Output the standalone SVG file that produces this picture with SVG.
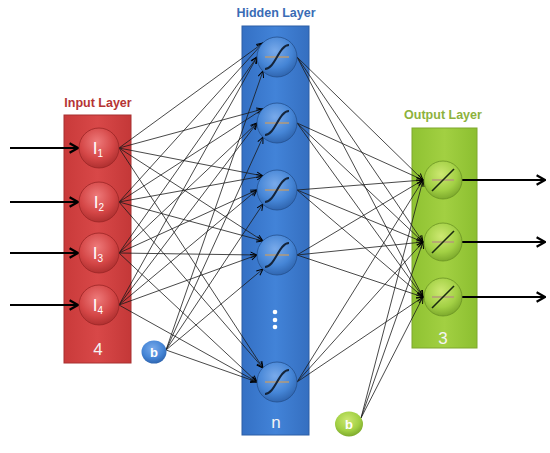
<svg xmlns="http://www.w3.org/2000/svg" width="550" height="453" viewBox="0 0 550 453">
<defs>
<style>
.title{font-family:"Liberation Sans",Arial,sans-serif;font-weight:bold;font-size:12.5px;text-anchor:middle}
.lbl{font-family:"Liberation Sans",Arial,sans-serif;fill:#fff;text-anchor:middle}
.cnt{font-family:"Liberation Sans",Arial,sans-serif;fill:#f4f4f4;font-size:17px;text-anchor:middle}
.c{stroke:#1a1a1a;stroke-width:0.8;fill:none;marker-end:url(#ah)}
.big{stroke:#000;stroke-width:2;fill:none;marker-end:url(#ahb)}
.gray{stroke:#b39a78;stroke-width:1.5}
.sig{stroke:#14243a;stroke-width:2;fill:none}
.lin{stroke:#1a2a10;stroke-width:1.6}
.rr{stroke:#9a2626;stroke-width:0.8}
.rb{stroke:#24508e;stroke-width:0.8}
.rg{stroke:#6a9222;stroke-width:0.8}
</style>
<marker id="ah" viewBox="0 0 10 10" refX="9" refY="5" markerWidth="8" markerHeight="8" markerUnits="userSpaceOnUse" orient="auto"><path d="M1,1.5 L9,5 L1,8.5" fill="none" stroke="#000" stroke-width="1.2"/></marker>
<marker id="ahb" viewBox="0 0 10 10" refX="9" refY="5" markerWidth="12" markerHeight="12" markerUnits="userSpaceOnUse" orient="auto"><path d="M2,1 L9,5 L2,9" fill="none" stroke="#000" stroke-width="1.8"/></marker>
<linearGradient id="rR" x1="0" y1="0" x2="1" y2="0"><stop offset="0" stop-color="#c93a3a"/><stop offset="0.5" stop-color="#d84848"/><stop offset="1" stop-color="#c43838"/></linearGradient>
<linearGradient id="rB" x1="0" y1="0" x2="1" y2="0"><stop offset="0" stop-color="#3470c4"/><stop offset="0.5" stop-color="#4283d8"/><stop offset="1" stop-color="#356fc0"/></linearGradient>
<linearGradient id="rG" x1="0" y1="0" x2="1" y2="0"><stop offset="0" stop-color="#8fc232"/><stop offset="0.5" stop-color="#a2d042"/><stop offset="1" stop-color="#8cbf30"/></linearGradient>
<radialGradient id="cR" cx="0.45" cy="0.35" r="0.7"><stop offset="0" stop-color="#ee7a7a"/><stop offset="0.6" stop-color="#d44646"/><stop offset="1" stop-color="#a82c2c"/></radialGradient>
<radialGradient id="cB" cx="0.45" cy="0.35" r="0.7"><stop offset="0" stop-color="#79aaea"/><stop offset="0.6" stop-color="#4585d6"/><stop offset="1" stop-color="#2b5fa8"/></radialGradient>
<radialGradient id="cG" cx="0.45" cy="0.35" r="0.7"><stop offset="0" stop-color="#cde872"/><stop offset="0.6" stop-color="#a2d044"/><stop offset="1" stop-color="#76a228"/></radialGradient>
</defs>
<rect width="550" height="453" fill="#fff"/>

<g id="input-layer">
<text class="title" x="98" y="107" fill="#b53434">Input Layer</text>
<rect x="64" y="115" width="67" height="248" fill="url(#rR)" stroke="#a83030" stroke-width="1"/>
<text class="cnt" x="98" y="355">4</text>
</g>
<g id="hidden-layer">
<text class="title" x="276" y="17" fill="#3a6cb5">Hidden Layer</text>
<rect x="242" y="26" width="67" height="409" fill="url(#rB)" stroke="#2d5fa6" stroke-width="1"/>
<text class="cnt" x="276" y="428">n</text>
<circle cx="275" cy="312" r="2.3" fill="#fff"/>
<circle cx="275" cy="320" r="2.3" fill="#fff"/>
<circle cx="275" cy="327" r="2.3" fill="#fff"/>
</g>
<g id="output-layer">
<text class="title" x="443" y="119" fill="#8db23c">Output Layer</text>
<rect x="412" y="128" width="65" height="220" fill="url(#rG)" stroke="#7ea82c" stroke-width="1"/>
<text class="cnt" x="443" y="344">3</text>
</g>

<g id="connectors">
<line class="big" x1="10" y1="148" x2="78" y2="148"/>
<line class="big" x1="10" y1="202" x2="78" y2="202"/>
<line class="big" x1="10" y1="253" x2="78" y2="253"/>
<line class="big" x1="10" y1="305" x2="78" y2="305"/>
<line class="big" x1="462" y1="180" x2="545" y2="180"/>
<line class="big" x1="462" y1="242" x2="545" y2="242"/>
<line class="big" x1="462" y1="297" x2="545" y2="297"/>
<line class="c" x1="119" y1="148" x2="263" y2="43"/>
<line class="c" x1="119" y1="202" x2="263" y2="43"/>
<line class="c" x1="119" y1="253" x2="257" y2="57"/>
<line class="c" x1="119" y1="305" x2="257" y2="57"/>
<line class="c" x1="166" y1="350" x2="263" y2="71"/>
<line class="c" x1="119" y1="148" x2="263" y2="109"/>
<line class="c" x1="119" y1="202" x2="263" y2="109"/>
<line class="c" x1="119" y1="253" x2="257" y2="123"/>
<line class="c" x1="119" y1="305" x2="257" y2="123"/>
<line class="c" x1="166" y1="350" x2="263" y2="137"/>
<line class="c" x1="119" y1="148" x2="263" y2="176"/>
<line class="c" x1="119" y1="202" x2="263" y2="176"/>
<line class="c" x1="119" y1="253" x2="257" y2="190"/>
<line class="c" x1="119" y1="305" x2="257" y2="190"/>
<line class="c" x1="166" y1="350" x2="263" y2="204"/>
<line class="c" x1="119" y1="148" x2="263" y2="241"/>
<line class="c" x1="119" y1="202" x2="263" y2="241"/>
<line class="c" x1="119" y1="253" x2="257" y2="255"/>
<line class="c" x1="119" y1="305" x2="257" y2="255"/>
<line class="c" x1="166" y1="350" x2="263" y2="269"/>
<line class="c" x1="119" y1="148" x2="263" y2="368"/>
<line class="c" x1="119" y1="202" x2="263" y2="368"/>
<line class="c" x1="119" y1="253" x2="257" y2="382"/>
<line class="c" x1="119" y1="305" x2="257" y2="382"/>
<line class="c" x1="166" y1="350" x2="257" y2="382"/>
<line class="c" x1="297" y1="57" x2="423" y2="180"/>
<line class="c" x1="297" y1="57" x2="423" y2="242"/>
<line class="c" x1="297" y1="57" x2="423" y2="297"/>
<line class="c" x1="297" y1="123" x2="423" y2="180"/>
<line class="c" x1="297" y1="123" x2="423" y2="242"/>
<line class="c" x1="297" y1="123" x2="423" y2="297"/>
<line class="c" x1="297" y1="190" x2="423" y2="180"/>
<line class="c" x1="297" y1="190" x2="423" y2="242"/>
<line class="c" x1="297" y1="190" x2="423" y2="297"/>
<line class="c" x1="297" y1="255" x2="423" y2="180"/>
<line class="c" x1="297" y1="255" x2="423" y2="242"/>
<line class="c" x1="297" y1="255" x2="423" y2="297"/>
<line class="c" x1="297" y1="382" x2="423" y2="180"/>
<line class="c" x1="297" y1="382" x2="423" y2="242"/>
<line class="c" x1="297" y1="382" x2="423" y2="297"/>
<line class="c" x1="361" y1="418" x2="423" y2="180"/>
<line class="c" x1="361" y1="418" x2="423" y2="242"/>
<line class="c" x1="361" y1="418" x2="423" y2="297"/>
</g>

<g id="I1"><circle class="rr" cx="99" cy="148" r="20" fill="url(#cR)"/><text class="lbl" x="98" y="154" font-size="17">I<tspan font-size="10" dy="3">1</tspan></text></g>
<g id="I2"><circle class="rr" cx="99" cy="202" r="20" fill="url(#cR)"/><text class="lbl" x="99" y="208" font-size="17">I<tspan font-size="10" dy="3">2</tspan></text></g>
<g id="I3"><circle class="rr" cx="99" cy="253" r="20" fill="url(#cR)"/><text class="lbl" x="98" y="259" font-size="17">I<tspan font-size="10" dy="3">3</tspan></text></g>
<g id="I4"><circle class="rr" cx="99" cy="305" r="20" fill="url(#cR)"/><text class="lbl" x="98" y="311" font-size="17">I<tspan font-size="10" dy="3">4</tspan></text></g>

<g id="H1"><circle class="rb" cx="277" cy="57" r="20" fill="url(#cB)"/><line class="gray" x1="265" y1="57" x2="289" y2="57"/><path class="sig" d="M265,69 C275,69 279,45 289,45"/></g>
<g id="H2"><circle class="rb" cx="277" cy="123" r="20" fill="url(#cB)"/><line class="gray" x1="265" y1="123" x2="289" y2="123"/><path class="sig" d="M265,135 C275,135 279,111 289,111"/></g>
<g id="H3"><circle class="rb" cx="277" cy="190" r="20" fill="url(#cB)"/><line class="gray" x1="265" y1="190" x2="289" y2="190"/><path class="sig" d="M265,202 C275,202 279,178 289,178"/></g>
<g id="H4"><circle class="rb" cx="277" cy="255" r="20" fill="url(#cB)"/><line class="gray" x1="265" y1="255" x2="289" y2="255"/><path class="sig" d="M265,267 C275,267 279,243 289,243"/></g>
<g id="H5"><circle class="rb" cx="277" cy="382" r="20" fill="url(#cB)"/><line class="gray" x1="265" y1="382" x2="289" y2="382"/><path class="sig" d="M265,394 C275,394 279,370 289,370"/></g>

<g id="O1"><circle class="rg" cx="443" cy="180" r="19" fill="url(#cG)"/><line class="gray" x1="432" y1="180" x2="454" y2="180"/><line class="lin" x1="432" y1="191" x2="454" y2="169"/></g>
<g id="O2"><circle class="rg" cx="443" cy="242" r="19" fill="url(#cG)"/><line class="gray" x1="432" y1="242" x2="454" y2="242"/><line class="lin" x1="432" y1="253" x2="454" y2="231"/></g>
<g id="O3"><circle class="rg" cx="443" cy="297" r="19" fill="url(#cG)"/><line class="gray" x1="432" y1="297" x2="454" y2="297"/><line class="lin" x1="432" y1="308" x2="454" y2="286"/></g>

<g id="b-hidden"><ellipse cx="154" cy="352" rx="12.5" ry="11.5" fill="url(#cB)"/><text class="lbl" x="154" y="357" font-size="13" font-weight="bold">b</text></g>
<g id="b-output"><ellipse cx="349" cy="424" rx="14" ry="12.5" fill="url(#cG)"/><text class="lbl" x="349" y="429" font-size="13" font-weight="bold">b</text></g>
</svg>
